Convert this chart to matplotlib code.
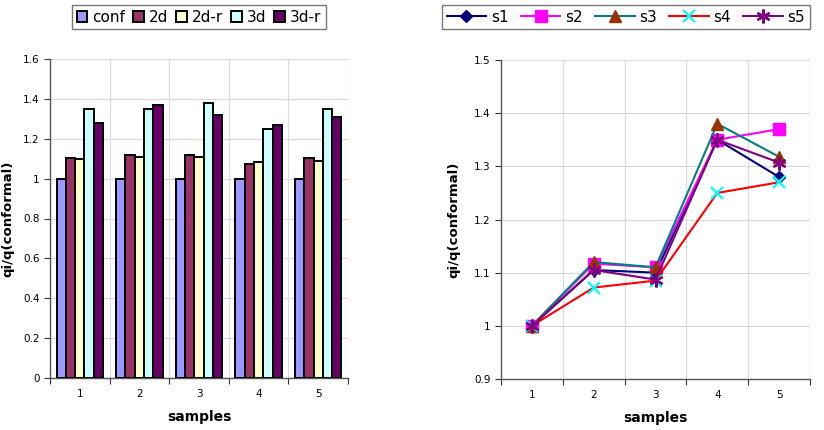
import matplotlib
matplotlib.use("Agg")
import matplotlib.pyplot as plt
import numpy as np

samples = ["1", "2", "3", "4", "5"]
methods = ["conf", "2d", "2d-r", "3d", "3d-r"]
conf = [1.0, 1.0, 1.0, 1.0, 1.0]
v2d = [1.105, 1.117, 1.12, 1.072, 1.105]
v2dr = [1.10, 1.11, 1.11, 1.085, 1.087]
v3d = [1.35, 1.35, 1.38, 1.25, 1.35]
v3dr = [1.28, 1.37, 1.318, 1.27, 1.307]
series_names = ["s1", "s2", "s3", "s4", "s5"]

bar_colors = ["#9999FF", "#993366", "#FFFFCC", "#CCFFFF", "#660066"]
line_colors = ["#000080", "#FF00FF", "#008080", "#FF0000", "#800080"]
marker_face = ["#000080", "#FF00FF", "#993300", "#00FFFF", "#800080"]
markers = ["D", "s", "^", "x", (6, 2, 0)]
msizes = [6, 9, 9, 9, 10]

table = np.array([conf, v2d, v2dr, v3d, v3dr])  # methods x samples

fig = plt.figure(figsize=(8.24, 4.30), dpi=100)
ax1 = fig.add_axes([50/824, 1-378/430, 298/824, 319/430])
ax2 = fig.add_axes([501/824, 1-379/430, 309/824, 319/430])

x = np.arange(1, 6)
bw = 0.156
handles1 = []
for i, (name, vals) in enumerate(zip(methods, table)):
    h = ax1.bar(x + (i - 2) * bw, vals, width=bw, color=bar_colors[i],
                edgecolor="black", linewidth=1.4, label=name, zorder=3)
    handles1.append(h)

ax1.set_ylim(0, 1.6)
ax1.set_yticks(np.arange(0, 1.61, 0.2))
ax1.set_yticklabels(["0", "0.2", "0.4", "0.6", "0.8", "1", "1.2", "1.4", "1.6"])

ax2.set_ylim(0.9, 1.5)
ax2.set_yticks([0.9, 1.0, 1.1, 1.2, 1.3, 1.4, 1.5])
ax2.set_yticklabels(["0.9", "1", "1.1", "1.2", "1.3", "1.4", "1.5"])

for j, name in enumerate(series_names):
    ax2.plot(x, table[:, j], color=line_colors[j], linewidth=1.5,
             marker=markers[j], markersize=msizes[j],
             markerfacecolor=marker_face[j],
             markeredgecolor=marker_face[j],
             markeredgewidth=1.6 if j >= 3 else 1.0,
             label=name, zorder=3, clip_on=False)

for ax in (ax1, ax2):
    ax.set_xlim(0.5, 5.5)
    ax.set_xticks(np.arange(0.5, 5.6, 1.0))
    ax.set_xticklabels([])
    ax.set_xticks(x, minor=True)
    ax.set_xticklabels(samples, minor=True)
    ax.tick_params(axis="x", which="minor", length=0, pad=8, labelsize=7.5)
    ax.tick_params(axis="x", which="major", length=4, direction="out", color="#333333")
    ax.tick_params(axis="y", length=4, direction="out", labelsize=7.5, color="#333333")
    ax.grid(True, which="major", color="#d9d9d9", linewidth=0.8, zorder=0)
    ax.set_axisbelow(True)
    for s in ("top", "right"):
        ax.spines[s].set_visible(False)
    for s in ("left", "bottom"):
        ax.spines[s].set_color("#555555")
        ax.spines[s].set_linewidth(1.0)
    ax.set_xlabel("samples", fontsize=10, fontweight="bold", labelpad=8)
    ax.set_ylabel("qi/q(conformal)", fontsize=9.5, fontweight="bold")

ax1.yaxis.set_label_coords(-0.118, 0.5)
ax2.yaxis.set_label_coords(-0.13, 0.5)

for ax in (ax1, ax2):
    ax.axhline(ax.get_ylim()[1], color="#d9d9d9", linewidth=0.8, zorder=0)
    ax.axvline(5.5, color="#d9d9d9", linewidth=0.8, zorder=0)

leg1 = fig.legend(handles=handles1, labels=methods, loc="upper left",
                  bbox_to_anchor=(72/824, 1-5/430), ncol=5, fontsize=11,
                  frameon=True, fancybox=False, edgecolor="#555555",
                  handlelength=0.7, handleheight=0.7, handletextpad=0.3,
                  columnspacing=0.55, borderpad=0.3, borderaxespad=0)
leg1.get_frame().set_linewidth(1.0)

h2, l2 = ax2.get_legend_handles_labels()
leg2 = fig.legend(handles=h2, labels=l2, loc="upper left",
                  bbox_to_anchor=(442/824, 1-5/430), ncol=5, fontsize=11,
                  frameon=True, fancybox=False, edgecolor="#555555",
                  handlelength=2.6, handletextpad=0.3,
                  columnspacing=0.8, borderpad=0.3, borderaxespad=0)
leg2.get_frame().set_linewidth(1.0)

fig.savefig("out.png", dpi=100)
